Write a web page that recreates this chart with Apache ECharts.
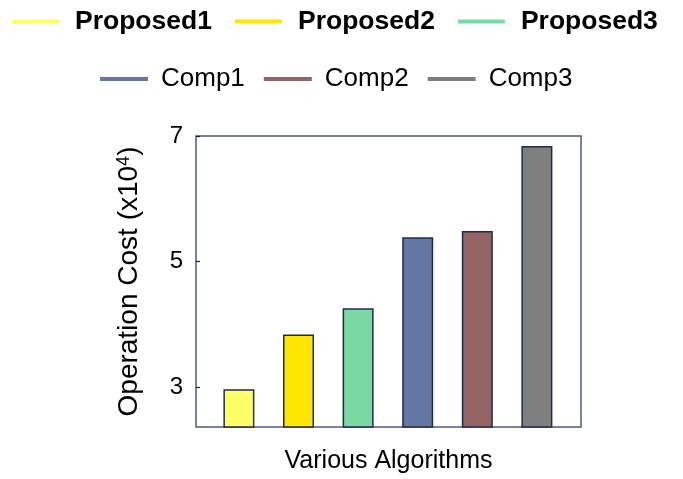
<!DOCTYPE html>
<html>
<head>
<meta charset="utf-8">
<script src="https://cdn.jsdelivr.net/npm/echarts@6/dist/echarts.min.js"></script>
<style>
html,body{margin:0;padding:0;background:#fff;}
#chart{width:683px;height:479px;}
</style>
</head>
<body>
<div id="chart"></div>
<script>
var categories = ['Proposed1', 'Proposed2', 'Proposed3', 'Comp1', 'Comp2', 'Comp3'];
var values = [2.97, 3.84, 4.26, 5.39, 5.49, 6.84];
var colors = ['#FFFF66', '#FFE600', '#7AD9A2', '#6578A3', '#946363', '#7F7F7F'];
var yTicks = [3, 5, 7];
var proposedNames = categories.slice(0, 3);
var compNames = categories.slice(3);

var chart = echarts.init(document.getElementById('chart'));
var FONT = '"Liberation Sans", Arial, Helvetica, sans-serif';

var series = categories.map(function (name, i) {
  return {
    name: name,
    type: 'bar',
    barWidth: 31,
    barGap: '-100%',
    data: [[i + 1, values[i]]],
    itemStyle: { color: colors[i], borderColor: '#1f2d4d', borderWidth: 1.5 },
    emphasis: { disabled: true }
  };
});

var option = {
  animation: false,
  color: colors,
  textStyle: { fontFamily: FONT },
  legend: [
    {
      data: proposedNames,
      left: 7,
      top: 3,
      icon: 'rect',
      itemWidth: 47,
      itemHeight: 4,
      itemGap: 23,
      itemStyle: { borderWidth: 0 },
      textStyle: { fontFamily: FONT, fontSize: 26.5, fontWeight: 'bold', color: '#000', padding: [0, 0, 0, 11] },
      selectedMode: false
    },
    {
      data: compNames,
      left: 95,
      top: 61,
      icon: 'rect',
      itemWidth: 48,
      itemHeight: 4,
      itemGap: 19,
      itemStyle: { borderWidth: 0 },
      textStyle: { fontFamily: FONT, fontSize: 26, color: '#000', padding: [0, 0, 0, 8] },
      selectedMode: false
    }
  ],
  grid: {
    left: 196, right: 102, top: 136, bottom: 51,
    show: true, borderColor: '#4d5b7c', borderWidth: 1.5, backgroundColor: 'transparent'
  },
  xAxis: {
    type: 'value',
    min: 0.28,
    max: 6.74,
    name: 'Various Algorithms',
    nameLocation: 'middle',
    nameGap: 22,
    nameTextStyle: { fontFamily: FONT, fontSize: 25, color: '#000' },
    axisLine: { show: false },
    splitLine: { show: false },
    axisLabel: { show: false },
    axisTick: {
      show: true, inside: true, length: 4,
      lineStyle: { color: '#222', width: 1.2 },
      customValues: categories.map(function (c, i) { return i + 1; })
    }
  },
  yAxis: {
    type: 'value',
    min: 2.37,
    max: 7,
    name: 'Operation Cost (x10{sup|4})',
    nameLocation: 'middle',
    nameRotate: 90,
    nameGap: 53,
    nameTextStyle: {
      fontFamily: FONT, fontSize: 28, color: '#000',
      rich: { sup: { fontFamily: FONT, fontSize: 18, color: '#000', verticalAlign: 'top', padding: [0, 0, 10, 0] } }
    },
    axisLine: { show: false },
    splitLine: { show: false },
    axisLabel: {
      fontFamily: FONT, fontSize: 24, color: '#000', margin: 13,
      customValues: yTicks
    },
    axisTick: {
      show: true, inside: true, length: 4,
      lineStyle: { color: '#222', width: 1.2 },
      customValues: yTicks
    }
  },
  series: series
};
chart.setOption(option);
</script>
</body>
</html>
